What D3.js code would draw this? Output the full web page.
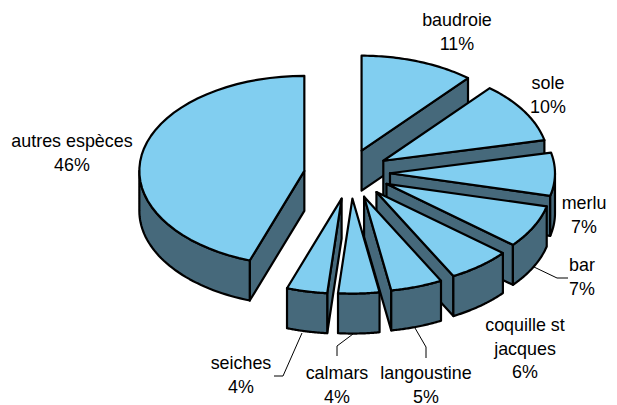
<!DOCTYPE html>
<html><head><meta charset="utf-8">
<style>html,body{margin:0;padding:0;background:#fff}svg{display:block}text{font-family:"Liberation Sans",Arial,sans-serif;font-size:17.9px;fill:#000;text-anchor:middle}</style>
<script src="https://cdn.jsdelivr.net/npm/d3@7"></script></head>
<body><script>
const categories=["baudroie","sole","merlu","bar","coquille st jacques","langoustine","calmars","seiches","autres espèces"];
const shares=[11,10,7,7,6,5,4,4,46];
const labelLines=[["baudroie","11%"],["sole","10%"],["merlu","7%"],["bar","7%"],["coquille st","jacques","6%"],["langoustine","5%"],["calmars","4%"],["seiches","4%"],["autres espèces","46%"]];
const labelSpots=[[457,26],[548,89],[584,209],[582,271],[525,331],[426,379],[337,379],[241,369],[72,147]];
const leaders=[[[534,267],[557,278],[568,278]],[[415,328],[426,347],[426,358]],[[353,334],[337,346],[337,356]],[[302,333],[283,376],[274,376]]];
const W=617,H=405,cx=347,cy=174,explode=43,depth=40;
const sx=d3.scaleLinear().domain([-1,1]).range([-165,165]);
const sy=d3.scaleLinear().domain([-1,1]).range([-95,95]);
const warp=t=>t+(2.5*Math.PI/180)*(1-Math.cos(t));
const at=(t,r)=>[sx(Math.sin(t)*r),sy(-Math.cos(t)*r)];
const line=d3.line();
const svg=d3.select("body").append("svg").attr("width",W).attr("height",H);
const pie=d3.pie().sort(null).value(d=>d);
const arcs=pie(shares).map((d,i)=>{
  const a=warp(d.startAngle),b=warp(d.endAngle),m=(d.startAngle+d.endAngle)/2;
  return {i,a,b,m,dx:cx+explode*Math.sin(m),dy:cy+sy(-Math.cos(m))*explode/165};
}).sort((p,q)=>p.dy-q.dy);
const arcPts=(a,b)=>d3.range(0,41).map(k=>at(a+(b-a)*k/40,1));
const topCol="#81CEF0",wallCol="#46697B";
arcs.forEach(s=>{
  const g=svg.append("g").attr("transform",`translate(${s.dx},${s.dy})`);
  const wall=pts=>g.append("path").attr("d",line(pts)+"Z").attr("fill",wallCol).attr("stroke","#000").attr("stroke-width",2.2).attr("stroke-linejoin","round");
  const down=p=>[p[0],p[1]+depth];
  if(Math.sin(s.a)<0){const o=at(s.a,1);wall([[0,0],o,down(o),[0,depth]]);}
  if(Math.sin(s.b)>0){const o=at(s.b,1);wall([[0,0],o,down(o),[0,depth]]);}
  const f0=Math.max(s.a,Math.PI/2),f1=Math.min(s.b,3*Math.PI/2);
  if(f1>f0){const p=arcPts(f0,f1);wall(p.concat(p.slice().reverse().map(down)));}
  g.append("path").attr("d",line([[0,0]].concat(arcPts(s.a,s.b)))+"Z").attr("fill",topCol).attr("stroke","#000").attr("stroke-width",2.2).attr("stroke-linejoin","round");
});
leaders.forEach(p=>svg.append("path").attr("d",line(p)).attr("fill","none").attr("stroke","#000").attr("stroke-width",1));
labelLines.forEach((ls,i)=>{
  const t=svg.append("text").attr("aria-label",categories[i]);
  ls.forEach((s,j)=>t.append("tspan").attr("x",labelSpots[i][0]).attr("y",labelSpots[i][1]+j*23.7).text(s));
});
</script></body></html>
